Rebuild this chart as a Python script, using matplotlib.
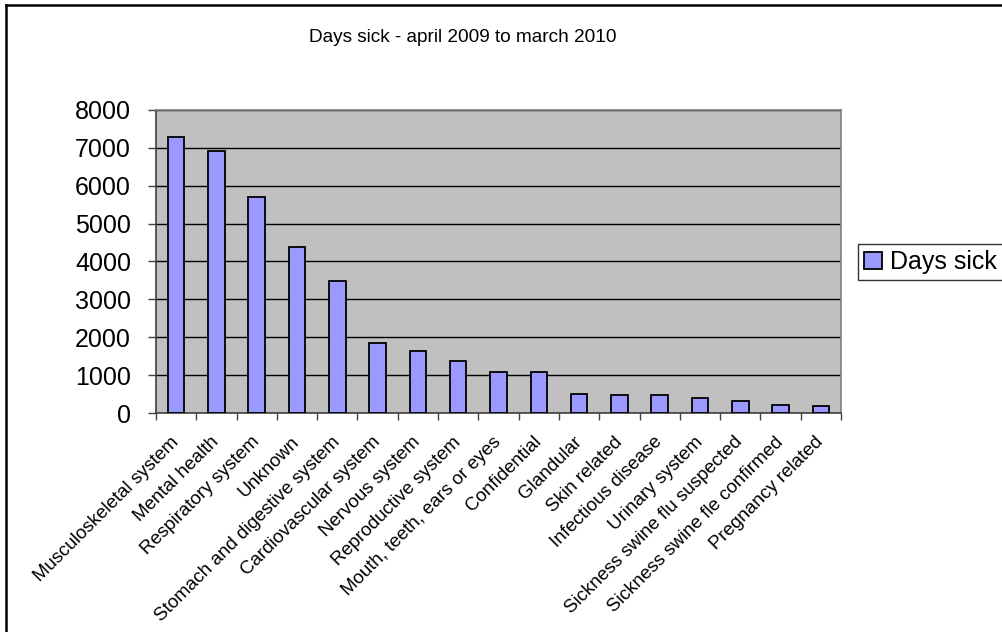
import matplotlib
matplotlib.use("Agg")
import matplotlib.pyplot as plt
from matplotlib.lines import Line2D

plt.rcParams["font.family"] = ["Liberation Sans", "DejaVu Sans"]

categories = [
    "Musculoskeletal system", "Mental health", "Respiratory system", "Unknown",
    "Stomach and digestive system", "Cardiovascular system", "Nervous system",
    "Reproductive system", "Mouth, teeth, ears or eyes", "Confidential",
    "Glandular", "Skin related", "Infectious disease", "Urinary system",
    "Sickness swine flu suspected", "Sickness swine fle confirmed",
    "Pregnancy related",
]
days_sick = [7280, 6930, 5700, 4380, 3480, 1850, 1650, 1360, 1075, 1075,
             510, 470, 470, 390, 310, 220, 175]
y_ticks = [0, 1000, 2000, 3000, 4000, 5000, 6000, 7000, 8000]

fig = plt.figure(figsize=(10.03, 6.32), dpi=100)
ax = fig.add_axes([0.1555, 0.3465, 0.683, 0.4795])

x = list(range(len(categories)))
ax.bar(x, days_sick, width=0.41, color="#9999FF", edgecolor="black",
       linewidth=1.3, zorder=3, label="Days sick")

ax.set_facecolor("#C0C0C0")
ax.set_xlim(-0.5, len(categories) - 0.5)
ax.set_ylim(0, 8000)
ax.set_yticks(y_ticks)
ax.set_yticklabels([str(v) for v in y_ticks], fontsize=18)
ax.yaxis.grid(True, color="black", linewidth=1.0, zorder=1)
ax.set_axisbelow(True)
ax.tick_params(axis="y", length=6, width=1, pad=12, color="#404040")

# category ticks at the boundaries, labels at the centres
ax.set_xticks([i - 0.5 for i in range(len(categories) + 1)])
ax.set_xticklabels([])
ax.set_xticks(x, minor=True)
ax.set_xticklabels(categories, minor=True, rotation=45, ha="right",
                   va="center", rotation_mode="anchor", fontsize=13.5)
ax.tick_params(axis="x", which="major", length=5, width=1, color="#404040")
ax.tick_params(axis="x", which="minor", length=0, pad=19)

for side in ("left", "bottom"):
    ax.spines[side].set_color("#404040")
    ax.spines[side].set_linewidth(1.2)
for side in ("top", "right"):
    ax.spines[side].set_color("#808080")
    ax.spines[side].set_linewidth(1.2)

fig.text(0.461, 1 - 38 / 632, "Days sick - april 2009 to march 2010",
         ha="center", va="center", fontsize=13.7)

leg = fig.legend(loc="center left", bbox_to_anchor=(858 / 1003, 1 - 262 / 632),
                 fontsize=18, frameon=True, fancybox=False, handlelength=0.7,
                 handleheight=0.7, handletextpad=0.35, borderpad=0.25,
                 borderaxespad=0)
leg.get_frame().set_edgecolor("black")
leg.get_frame().set_linewidth(1.0)

# outer chart frame (top and left edges visible)
fig.add_artist(Line2D([6 / 1003, 6 / 1003], [0, 1 - 5 / 632],
                      transform=fig.transFigure, color="black", linewidth=1.8))
fig.add_artist(Line2D([6 / 1003, 1], [1 - 5 / 632, 1 - 5 / 632],
                      transform=fig.transFigure, color="black", linewidth=1.8))

fig.savefig("out.png", dpi=100)
